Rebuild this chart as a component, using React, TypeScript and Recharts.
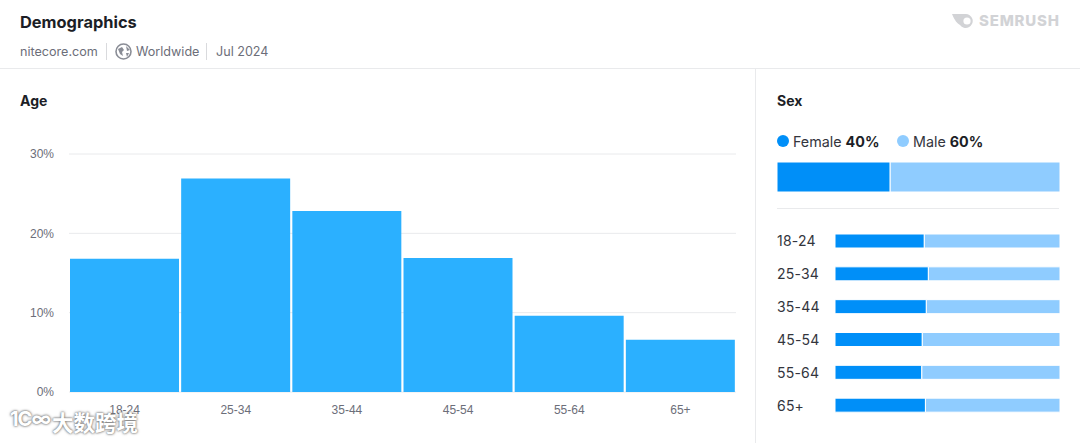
import { BarChart, Bar, XAxis, YAxis, CartesianGrid } from "recharts";

const AGE_GROUPS = ["18-24", "25-34", "35-44", "45-54", "55-64", "65+"];
const AGE_SHARE = [16.8, 26.9, 22.8, 16.9, 9.6, 6.6];
const AGE_TICKS = [0, 10, 20, 30];
const FEMALE_BY_AGE = [39.7, 41.5, 40.6, 38.8, 38.6, 40.2];
const MALE_BY_AGE = [60.3, 58.5, 59.4, 61.2, 61.4, 59.8];
const FEMALE_TOTAL = 40;
const MALE_TOTAL = 60;

const ageData = AGE_GROUPS.map((name, i) => ({ name, share: AGE_SHARE[i] }));
const sexData = AGE_GROUPS.map((name, i) => ({ name, female: FEMALE_BY_AGE[i], male: MALE_BY_AGE[i] }));
const totalData = [{ name: "all", female: FEMALE_TOTAL, male: MALE_TOTAL }];

const FONT = "Inter, sans-serif";
const INK = "#1c1e26";
const MUTED = "#6c6e79";
const LINE = "#e9eaec";
const FEMALE = "#008ff8";
const MALE = "#8fccff";
const AXIS_FONT = "'Liberation Sans', Arial, sans-serif";

function abs(left: number, top: number, extra: React.CSSProperties = {}): React.CSSProperties {
  return { position: "absolute", left, top, whiteSpace: "nowrap", ...extra };
}

function RowLabel({ y, payload }: any) {
  return (
    <text x={0} y={y} dy={5} fontFamily={FONT} fontSize={14} letterSpacing={0.2} fill="#33353d" textAnchor="start">
      {payload.value}
    </text>
  );
}

export default function App() {
  return (
    <div style={{ position: "absolute", left: 0, top: 0, width: 1080, height: 443, background: "#fff", fontFamily: FONT, overflow: "hidden" }}>
      <div style={abs(20, 12, { fontSize: 16.4, lineHeight: "20px", fontWeight: 700, color: INK })}>Demographics</div>
      <div style={abs(20, 44, { fontSize: 12.6, lineHeight: "16px", color: MUTED })}>nitecore.com</div>
      <div style={abs(106, 43, { width: 1, height: 17, background: "#d9dadd" })} />
      <svg style={abs(115, 43)} width={17} height={17} viewBox="0 0 17 17">
        <circle cx={8.5} cy={8.5} r={7.5} fill="#fff" stroke="#8a8d96" strokeWidth={1.6} />
        <path d="M3 6 L7 4 L9 7 L7 9 L8 13 L5 11 Z M11 3 L15 7 L12 8 Z M11 10 L14 10 L12 14 Z" fill="#8a8d96" />
      </svg>
      <div style={abs(136, 44, { fontSize: 12.6, lineHeight: "16px", color: MUTED })}>Worldwide</div>
      <div style={abs(206, 43, { width: 1, height: 17, background: "#d9dadd" })} />
      <div style={abs(216, 44, { fontSize: 12.6, lineHeight: "16px", color: MUTED })}>Jul 2024</div>

      <svg style={abs(952, 13)} width={26} height={16} viewBox="0 0 26 16">
        <path d="M0 1 H13 A7 7 0 1 1 8 12 C5 10 3 8 0 1 Z" fill="#d2d3d6" />
        <circle cx={15} cy={8} r={3.6} fill="#fff" />
      </svg>
      <div style={abs(979, 12, { fontSize: 15, lineHeight: "18px", fontWeight: 800, letterSpacing: 0.8, color: "#d2d3d6" })}>SEMRUSH</div>

      <div style={abs(0, 68, { width: 1080, height: 1, background: LINE })} />
      <div style={abs(755, 69, { width: 1, height: 374, background: LINE })} />

      <div style={abs(20, 92, { fontSize: 14, lineHeight: "18px", fontWeight: 700, color: INK })}>Age</div>
      <div style={abs(777, 92, { fontSize: 14, lineHeight: "18px", fontWeight: 700, color: INK })}>Sex</div>

      <div style={abs(0, 144)}>
        <BarChart width={760} height={280} data={ageData} margin={{ top: 10, right: 24, bottom: 2, left: 0 }} barCategoryGap={1}>
          <CartesianGrid vertical={false} stroke={LINE} />
          <XAxis
            dataKey="name"
            height={30}
            axisLine={false}
            tickLine={false}
            tickMargin={7}
            tick={{ fontFamily: AXIS_FONT, fontSize: 12, fill: MUTED }}
          />
          <YAxis
            width={69}
            domain={[0, 30]}
            ticks={AGE_TICKS}
            tickFormatter={(v) => `${v}%`}
            axisLine={false}
            tickLine={false}
            tickMargin={9}
            tick={{ fontFamily: AXIS_FONT, fontSize: 12, fill: MUTED }}
          />
          <Bar dataKey="share" fill="#2bb0ff" isAnimationActive={false} />
        </BarChart>
      </div>

      <span style={abs(777, 135, { width: 12, height: 12, borderRadius: 6, background: FEMALE })} />
      <div style={abs(793, 133, { fontSize: 14.3, lineHeight: "18px", color: "#33353d" })}>
        Female <b style={{ color: INK }}>{FEMALE_TOTAL}%</b>
      </div>
      <span style={abs(897, 135, { width: 12, height: 12, borderRadius: 6, background: MALE })} />
      <div style={abs(913, 133, { fontSize: 14.3, lineHeight: "18px", color: "#33353d" })}>
        Male <b style={{ color: INK }}>{MALE_TOTAL}%</b>
      </div>

      <div style={abs(777, 162)}>
        <BarChart width={283} height={30} data={totalData} layout="vertical" margin={{ top: 0, right: 0, bottom: 0, left: 0 }} barCategoryGap={0}>
          <XAxis type="number" hide domain={[0, 100]} />
          <YAxis type="category" dataKey="name" hide />
          <Bar dataKey="female" stackId="s" fill={FEMALE} stroke="#fff" isAnimationActive={false} />
          <Bar dataKey="male" stackId="s" fill={MALE} stroke="#fff" isAnimationActive={false} />
        </BarChart>
      </div>

      <div style={abs(777, 208, { width: 282, height: 1, background: LINE })} />

      <div style={abs(777, 225)}>
        <BarChart width={283} height={197} data={sexData} layout="vertical" margin={{ top: 0, right: 0, bottom: 0, left: 0 }} barSize={14}>
          <XAxis type="number" hide domain={[0, 100]} />
          <YAxis type="category" dataKey="name" width={58} axisLine={false} tickLine={false} tick={RowLabel} interval={0} />
          <Bar dataKey="female" stackId="s" fill={FEMALE} stroke="#fff" isAnimationActive={false} />
          <Bar dataKey="male" stackId="s" fill={MALE} stroke="#fff" isAnimationActive={false} />
        </BarChart>
      </div>

      <div style={abs(52, 408, { fontFamily: "'Noto Sans CJK SC', sans-serif", fontSize: 21.5, lineHeight: "28px", fontWeight: 700, color: "#fff", textShadow: "0 0 3px #777, 0 0 2px #777" })}>
        大数跨境
      </div>
      <div style={abs(10, 405, { fontFamily: FONT, fontSize: 20, lineHeight: "28px", fontWeight: 700, letterSpacing: -1, color: "#fff", textShadow: "0 0 3px #777, 0 0 2px #777" })}>
        1C∞
      </div>
    </div>
  );
}
